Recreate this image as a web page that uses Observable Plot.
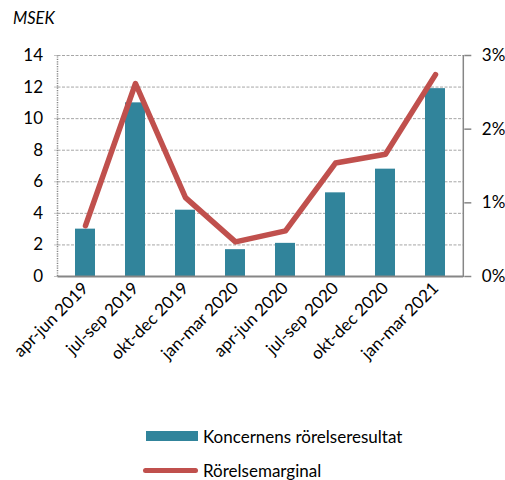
<!DOCTYPE html>
<html><head><meta charset="utf-8">
<script src="https://cdn.jsdelivr.net/npm/d3@7"></script>
<script src="https://cdn.jsdelivr.net/npm/@observablehq/plot@0.6"></script>
<style>
body{margin:0;background:#fff;font-family:Lato,"Open Sans",sans-serif;color:#000}
#wrap{position:relative;width:505px;height:480px;overflow:hidden}
#chart{position:absolute;left:0;top:0}
#unit{position:absolute;left:13px;top:8px;font-style:italic;font-size:16.5px}
.leg{position:absolute;left:143px;height:20px;display:flex;align-items:center;font-size:17px;white-space:nowrap}
.sw{display:inline-block;margin-right:5px}
</style></head><body>
<div id="wrap"><div id="chart"></div><div id="unit">MSEK</div><div id="legend"></div></div>
<script>
const quarters = ["apr-jun 2019","jul-sep 2019","okt-dec 2019","jan-mar 2020","apr-jun 2020","jul-sep 2020","okt-dec 2020","jan-mar 2021"];
const result = [3.0, 11.0, 4.2, 1.7, 2.1, 5.3, 6.8, 11.9];   // MSEK
const margin = [0.69, 2.62, 1.07, 0.47, 0.62, 1.54, 1.66, 2.74]; // %
const leftTicks = [0, 2, 4, 6, 8, 10, 12, 14];
const rightTicks = [0, 1, 2, 3];
const seriesNames = ["Koncernens rörelseresultat", "Rörelsemarginal"];
const colors = ["#31849b", "#c0504d"];

const leftMax = 14, rightMax = 3, k = leftMax / rightMax;
const data = quarters.map((q, i) => ({q, r: result[i], m: margin[i]}));

const plot = Plot.plot({
  width: 505, height: 400,
  marginTop: 55, marginBottom: 124, marginLeft: 57.5, marginRight: 41.7,
  style: {fontFamily: "Lato, 'Open Sans', sans-serif", fontSize: "17px", color: "#000", background: "transparent", overflow: "visible"},
  x: {domain: quarters, paddingInner: 0.6, paddingOuter: 0.3, label: null},
  y: {domain: [0, leftMax], label: null},
  marks: [
    Plot.gridY(leftTicks.filter(t => t > 0), {stroke: "#a6a6a6", strokeOpacity: 1, strokeDasharray: "3,1.5"}),
    Plot.barY(data, {x: "q", y: "r", fill: colors[0]}),
    Plot.ruleY([0], {stroke: "#868686", strokeWidth: 2}),
    Plot.lineY(data, {x: "q", y: d => d.m * k, stroke: colors[1], strokeWidth: 5.5, strokeLinecap: "round", strokeLinejoin: "round"}),
    Plot.axisY(leftTicks, {anchor: "left", tickSize: 4, tickPadding: 11, stroke: "#868686", strokeDasharray: "1,1", label: null}),
    Plot.axisY(rightTicks.map(t => t * k), {anchor: "right", tickSize: 7, tickPadding: 11, stroke: "#868686", strokeWidth: 1.5, tickFormat: d => Math.round(d / k) + "%", label: null}),
    Plot.axisX({anchor: "bottom", tickRotate: -45, tickSize: 0, tickPadding: 9, label: null})
  ]
});
document.getElementById("chart").append(plot);

// axis spines drawn at the scales' range ends
const svg = d3.select(plot.tagName.toLowerCase() === "svg" ? plot : plot.querySelector("svg"));
const xr = plot.scale("x").range, yr = plot.scale("y").range;
svg.append("line").attr("x1", xr[0]).attr("x2", xr[0]).attr("y1", yr[0]).attr("y2", yr[1])
  .attr("stroke", "#868686").attr("stroke-width", 1.5).attr("stroke-dasharray", "1.2,1.2");
svg.append("line").attr("x1", xr[1]).attr("x2", xr[1]).attr("y1", yr[0] + 1).attr("y2", yr[1])
  .attr("stroke", "#868686").attr("stroke-width", 1.5);

// legend
const leg = document.getElementById("legend");
seriesNames.forEach((name, i) => {
  const div = document.createElement("div");
  div.className = "leg";
  div.style.top = (i === 0 ? 426 : 460) + "px";
  const sw = document.createElement("span");
  sw.className = "sw";
  if (i === 0) { sw.style.cssText = `width:52px;height:10px;background:${colors[0]};margin-left:3px`; }
  else { sw.style.cssText = `width:55px;height:5px;border-radius:3px;background:${colors[1]}`; }
  div.append(sw, document.createTextNode(name));
  leg.append(div);
});
</script>
</body></html>
